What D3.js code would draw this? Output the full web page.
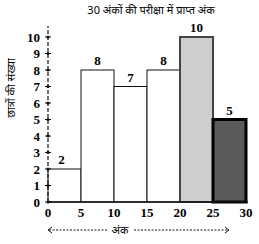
<!DOCTYPE html>
<html>
<head>
<meta charset="utf-8">
<script src="https://cdn.jsdelivr.net/npm/d3@7"></script>
<style>
  body { margin: 0; background: #fff; }
  svg { display: block; }
</style>
</head>
<body>
<svg width="259" height="244"></svg>
<script>
// class edges (marks), frequencies, tick labels
const binEdges = [0, 5, 10, 15, 20, 25, 30];
const counts = [2, 8, 7, 8, 10, 5];
const yTicks = [0, 1, 2, 3, 4, 5, 6, 7, 8, 9, 10];
const xTicks = [0, 5, 10, 15, 20, 25, 30];
const barFills = ["#fff", "#fff", "#fff", "#fff", "#cfcfcf", "#5a5a5a"];
const barStrokes = ["#111", "#111", "#111", "#111", "#444", "#000"];
const barStrokeW = [1, 1, 1, 1, 2, 3];

const svg = d3.select("svg");
const serif = "'Liberation Serif', 'DejaVu Serif', serif";

const x = d3.scaleLinear().domain([0, 30]).range([48, 246]);
const y = d3.scaleLinear().domain([0, 10]).range([202, 37]);

// title
svg.append("text")
  .attr("x", 151).attr("y", 14)
  .attr("text-anchor", "middle")
  .style("font-family", "'Noto Sans', sans-serif")
  .style("font-size", "11px")
  .text("30 अंकों की परीक्षा में प्राप्त अंक");

// bars
const bars = binEdges.slice(0, -1).map((e, i) => ({ x0: e, x1: binEdges[i + 1], v: counts[i], i: i }));

svg.append("g")
  .selectAll("rect")
  .data(bars)
  .enter()
  .append("rect")
  .attr("x", d => x(d.x0))
  .attr("y", d => y(d.v))
  .attr("width", d => x(d.x1) - x(d.x0))
  .attr("height", d => y(0) - y(d.v))
  .attr("fill", d => barFills[d.i])
  .attr("stroke", d => barStrokes[d.i])
  .attr("stroke-width", d => barStrokeW[d.i]);

// value labels
svg.append("g")
  .selectAll("text")
  .data(bars)
  .enter()
  .append("text")
  .attr("x", d => (x(d.x0) + x(d.x1)) / 2 - (d.i === 0 ? 3 : 0))
  .attr("y", d => y(d.v) - 5)
  .attr("text-anchor", "middle")
  .style("font-family", serif)
  .style("font-weight", "bold")
  .style("font-size", "13px")
  .text(d => d.v);

// y axis: dashed line with dot ticks
svg.append("line")
  .attr("x1", x(0)).attr("x2", x(0))
  .attr("y1", y(0)).attr("y2", 26)
  .attr("stroke", "#111")
  .attr("stroke-width", 1.2)
  .attr("stroke-dasharray", "4,2");

const yt = svg.append("g").selectAll("g").data(yTicks).enter().append("g")
  .attr("transform", d => `translate(${x(0)},${y(d)})`);
yt.append("line").attr("x1", -3).attr("x2", 3).attr("stroke", "#111").attr("stroke-width", 1);
yt.append("circle").attr("r", 1.5).attr("fill", "#111");
yt.append("text")
  .attr("x", -8).attr("dy", "0.35em")
  .attr("text-anchor", "end")
  .style("font-family", serif)
  .style("font-weight", "bold")
  .style("font-size", "13px")
  .text(d => d);

// x axis
svg.append("line")
  .attr("x1", x(0)).attr("x2", x(30) + 2)
  .attr("y1", y(0)).attr("y2", y(0))
  .attr("stroke", "#111").attr("stroke-width", 1.5);

svg.append("g").selectAll("text").data(xTicks).enter().append("text")
  .attr("x", d => x(d))
  .attr("y", 217)
  .attr("text-anchor", "middle")
  .style("font-family", serif)
  .style("font-weight", "bold")
  .style("font-size", "13px")
  .text(d => d);

// x axis label with dashed arrows
const arrowY = 230;
svg.append("line").attr("x1", 49).attr("x2", 107).attr("y1", arrowY).attr("y2", arrowY)
  .attr("stroke", "#111").attr("stroke-dasharray", "2,1.5");
svg.append("line").attr("x1", 134).attr("x2", 227).attr("y1", arrowY).attr("y2", arrowY)
  .attr("stroke", "#111").attr("stroke-dasharray", "2,1.5");
svg.append("path").attr("d", `M52,${arrowY - 3} L48,${arrowY} L52,${arrowY + 3}`)
  .attr("fill", "none").attr("stroke", "#111");
svg.append("path").attr("d", `M225,${arrowY - 3} L229,${arrowY} L225,${arrowY + 3}`)
  .attr("fill", "none").attr("stroke", "#111");
svg.append("text")
  .attr("x", 120).attr("y", arrowY + 4)
  .attr("text-anchor", "middle")
  .style("font-family", "'Noto Sans', sans-serif")
  .style("font-size", "11px")
  .text("अंक");

// y axis label
svg.append("text")
  .attr("transform", "translate(15,88) rotate(-90)")
  .attr("text-anchor", "middle")
  .style("font-family", "'Noto Sans', sans-serif")
  .style("font-size", "11px")
  .text("छात्रों की संख्या");
</script>
</body>
</html>
